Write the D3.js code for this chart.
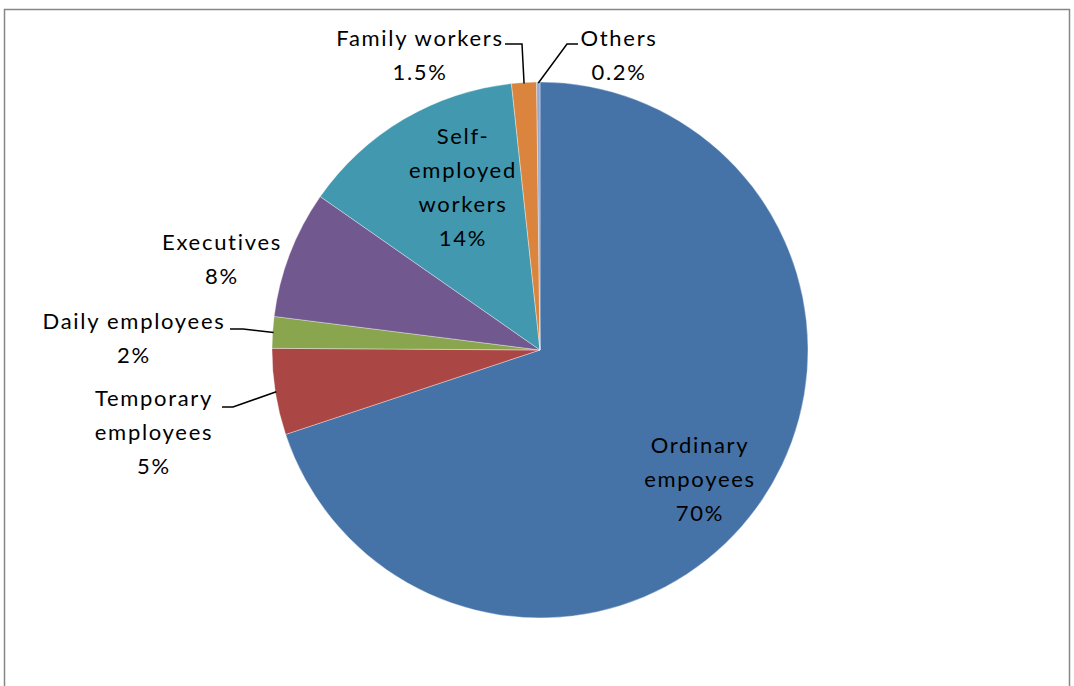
<!DOCTYPE html>
<html>
<meta charset="utf-8"/>
<head>
  <title>Employment status</title>
  <script src="https://d3js.org/d3.v7.min.js" charset="utf-8"></script>
  <style>
    body { margin: 0; background: #fff; }
    text { font-family: Lato, "Open Sans", sans-serif; font-size: 22px; letter-spacing: 1.7px; fill: #000; }
  </style>
</head>
<body>
<script>
  // data (clockwise from 12 o'clock)
  var categories = ['Ordinary empoyees', 'Temporary employees', 'Daily employees', 'Executives',
                    'Self-employed workers', 'Family workers', 'Others'];
  var shares = [69.9, 5.2, 1.9, 7.7, 13.6, 1.5, 0.2];
  var shareLabels = ['70%', '5%', '2%', '8%', '14%', '1.5%', '0.2%'];
  var labelLines = [
    ['Ordinary', 'empoyees'],
    ['Temporary', 'employees'],
    ['Daily employees'],
    ['Executives'],
    ['Self-', 'employed', 'workers'],
    ['Family workers'],
    ['Others']
  ];
  var colors = ['#4572A7', '#AA4643', '#89A54E', '#71588F', '#4198AF', '#DB843D', '#93A9CF'];

  var width = 1074, height = 686;
  var cx = 540, cy = 350, radius = 268;

  // where the label blocks sit (centre x, first baseline y), plus leader elbow if any
  var labelLayout = [
    {x: 700, y: 453},
    {x: 154, y: 406, leader: [[222, 407], [233, 407]]},
    {x: 134, y: 329, leader: [[230, 329], [243, 329]]},
    {x: 222, y: 250},
    {x: 463, y: 144},
    {x: 420, y: 46, leader: [[505, 44], [522, 44]]},
    {x: 619, y: 46, leader: [[578, 44], [567, 44]]}
  ];
  var lineGap = 34;

  var svg = d3.select('body').append('svg')
      .attr('width', width)
      .attr('height', height);

  // chart frame
  svg.append('rect')
    .attr('x', 4.5).attr('y', 9.5)
    .attr('width', 1065).attr('height', 700)
    .style('fill', 'none')
    .style('stroke', '#868686')
    .style('stroke-width', 1.5);

  var pie = d3.pie().sort(null).value(function(d) { return d; });
  var arcs = pie(shares);
  var arc = d3.arc().innerRadius(0).outerRadius(radius);
  var edge = d3.arc().innerRadius(radius - 1).outerRadius(radius - 1);

  var g = svg.append('g').attr('transform', 'translate(' + cx + ',' + cy + ')');

  g.selectAll('path.slice')
    .data(arcs)
    .enter().append('path')
    .attr('class', 'slice')
    .attr('d', arc)
    .style('fill', function(d, i) { return colors[i]; })
    .style('stroke', '#ffffff')
    .style('stroke-opacity', 0.6)
    .style('stroke-width', 0.6);

  // leader lines
  arcs.forEach(function(d, i) {
    var L = labelLayout[i];
    if (!L.leader) return;
    var c = edge.centroid(d);
    var pts = L.leader.concat([[c[0] + cx, c[1] + cy]]);
    svg.append('path')
      .attr('d', d3.line()(pts))
      .style('fill', 'none')
      .style('stroke', '#000')
      .style('stroke-width', 1.5);
  });

  // labels
  categories.forEach(function(name, i) {
    var L = labelLayout[i];
    var lines = labelLines[i].concat([shareLabels[i]]);
    var t = svg.append('text')
      .attr('text-anchor', 'middle')
      .attr('x', L.x).attr('y', L.y);
    lines.forEach(function(s, k) {
      t.append('tspan')
        .attr('x', L.x)
        .attr('y', L.y + k * lineGap)
        .text(s);
    });
  });
</script>
</body>
</html>
